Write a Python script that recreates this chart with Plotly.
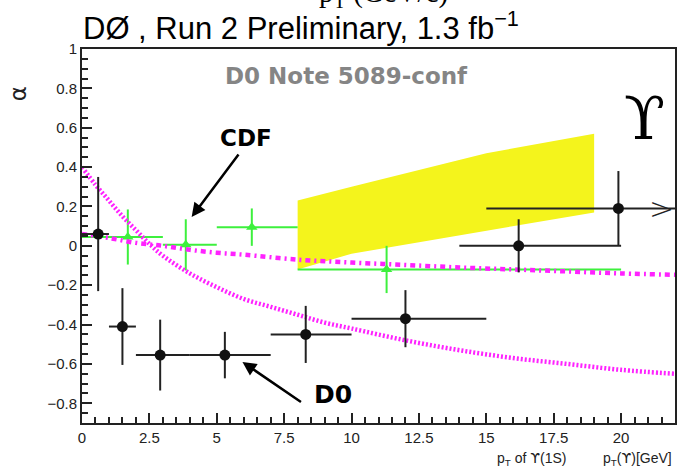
import plotly.graph_objects as go

# ---------------- data ----------------
d0_x = [0.6, 1.5, 2.9, 5.3, 8.3, 12.0, 16.2, 19.9]
d0_y = [0.06, -0.41, -0.555, -0.555, -0.45, -0.37, 0.0, 0.19]
d0_xlo = [0.0, 1.0, 2.0, 4.0, 7.0, 10.0, 14.0, 15.0]
d0_xhi = [1.0, 2.0, 4.0, 7.0, 10.0, 15.0, 20.0, 22.0]
d0_yerr = [0.29, 0.195, 0.18, 0.118, 0.145, 0.145, 0.135, 0.19]

cdf_x = [1.7, 3.85, 6.3, 11.3]
cdf_y = [0.045, 0.005, 0.095, -0.12]
cdf_xlo = [0.0, 3.0, 5.0, 8.0]
cdf_xhi = [3.0, 5.0, 8.0, 20.0]
cdf_yerr = [0.14, 0.13, 0.095, 0.12]

band_x = [8, 10, 15, 19]
band_upper = [0.23, 0.30, 0.47, 0.57]
band_lower = [-0.12, -0.04, 0.077, 0.17]

curveA_x = [0, 0.5, 1, 1.5, 2, 2.5, 3, 4, 5, 6, 7, 8, 9, 10, 12, 14, 16, 18, 20, 22]
curveA_y = [0.40, 0.31, 0.23, 0.15, 0.08, 0.01, -0.05, -0.14, -0.21, -0.27, -0.31,
            -0.35, -0.39, -0.42, -0.48, -0.53, -0.57, -0.60, -0.63, -0.65]

curveB_x = [0, 1, 2, 3, 4, 5, 6, 8, 10, 12, 14, 16, 18, 20, 22]
curveB_y = [0.06, 0.04, 0.015, 0.0, -0.02, -0.035, -0.045, -0.07, -0.085, -0.097,
            -0.11, -0.12, -0.13, -0.14, -0.147]

x_range = [0, 22]
y_range = [-0.9, 1.0]

# ---------------- layout helpers ----------------
W, H = 679, 467
L, R, T, B = 82, 2, 49, 44
PW, PH = W - L - R, H - T - B


def pxx(p):
    return (p - L) / PW


def pxy(p):
    return (H - B - p) / PH


BLACK = "#111111"
GREEN = "#3df03d"
MAGENTA = "#ff22ff"
YELLOW = "#f4f41c"
UPS = "<span style=\"font-family:'DejaVu Sans'\">ϒ</span>"

fig = go.Figure()

# yellow band
fig.add_trace(go.Scatter(
    x=band_x + band_x[::-1], y=band_upper + band_lower[::-1],
    fill="toself", fillcolor=YELLOW, line=dict(width=0), mode="lines",
    hoverinfo="skip", showlegend=False))

# CDF (green)
fig.add_trace(go.Scatter(
    x=cdf_x, y=cdf_y, mode="markers",
    marker=dict(symbol="triangle-up", size=10, color=GREEN),
    error_x=dict(type="data", symmetric=False,
                 array=[h - x for h, x in zip(cdf_xhi, cdf_x)],
                 arrayminus=[x - l for l, x in zip(cdf_xlo, cdf_x)],
                 color=GREEN, thickness=2, width=0),
    error_y=dict(type="data", array=cdf_yerr, color=GREEN, thickness=2, width=0),
    showlegend=False))

# model curves
fig.add_trace(go.Scatter(
    x=curveA_x, y=curveA_y, mode="lines", line_shape="spline",
    line=dict(color=MAGENTA, width=4.5, dash="2px,2px"), showlegend=False))
fig.add_trace(go.Scatter(
    x=curveB_x, y=curveB_y, mode="lines", line_shape="spline",
    line=dict(color=MAGENTA, width=4.5, dash="5px,4px,2px,4px"), showlegend=False))

# D0 (black)
fig.add_trace(go.Scatter(
    x=d0_x, y=d0_y, mode="markers",
    marker=dict(symbol="circle", size=11, color=BLACK),
    error_x=dict(type="data", symmetric=False,
                 array=[h - x for h, x in zip(d0_xhi, d0_x)],
                 arrayminus=[x - l for l, x in zip(d0_xlo, d0_x)],
                 color="#222222", thickness=2, width=0),
    error_y=dict(type="data", array=d0_yerr, color="#222222", thickness=2, width=0),
    showlegend=False))

ann = []
# open arrow head for the last D0 bin
ann.append(dict(x=x_range[1], y=d0_y[-1], xref="x", yref="y", text=">",
                showarrow=False, xanchor="right", yanchor="middle", xshift=1,
                font=dict(family="DejaVu Sans", size=30, color="#222222", weight=200)))

# title
ann.append(dict(x=pxx(81), y=pxy(26), xref="paper", yref="paper",
                text="DØ , Run 2 Preliminary, 1.3 fb<sup>−1</sup>",
                showarrow=False, xanchor="left", yanchor="middle",
                font=dict(family="Liberation Sans", size=31, color="black")))
# clipped text at the very top
ann.append(dict(x=pxx(385), y=pxy(-6), xref="paper", yref="paper",
                text="p<sub>T</sub> (GeV/c)", showarrow=False,
                xanchor="center", yanchor="middle",
                font=dict(family="Liberation Serif", size=29, color="black")))
# note
ann.append(dict(x=pxx(347), y=pxy(76), xref="paper", yref="paper",
                text="<b>D0 Note 5089-conf</b>", showarrow=False,
                xanchor="center", yanchor="middle",
                font=dict(family="DejaVu Sans", size=23, color="#858585")))
# CDF label + arrow
ann.append(dict(x=pxx(247), y=pxy(138), xref="paper", yref="paper",
                text="<b>CDF</b>", showarrow=False, xanchor="center", yanchor="middle",
                font=dict(family="DejaVu Sans", size=23, color="black")))
ann.append(dict(x=pxx(192), y=pxy(217), xref="paper", yref="paper", text="",
                showarrow=True, ax=240 - 192, ay=153 - 217, axref="pixel", ayref="pixel",
                arrowhead=2, arrowsize=1.1, arrowwidth=2.5, arrowcolor="black"))
# D0 label + arrow
ann.append(dict(x=pxx(334), y=pxy(394), xref="paper", yref="paper",
                text="<b>D0</b>", showarrow=False, xanchor="center", yanchor="middle",
                font=dict(family="DejaVu Sans", size=25, color="black")))
ann.append(dict(x=pxx(243), y=pxy(362), xref="paper", yref="paper", text="",
                showarrow=True, ax=303 - 243, ay=403 - 362, axref="pixel", ayref="pixel",
                arrowhead=2, arrowsize=1.1, arrowwidth=2.5, arrowcolor="black"))
# Upsilon symbol
ann.append(dict(x=pxx(646), y=pxy(118), xref="paper", yref="paper",
                text="ϒ", showarrow=False, xanchor="center", yanchor="middle",
                font=dict(family="DejaVu Serif", size=60, color="black")))
# axis titles
ann.append(dict(x=pxx(534), y=pxy(459), xref="paper", yref="paper",
                text="p<sub>T</sub> of " + UPS + "(1S)", showarrow=False,
                xanchor="center", yanchor="middle",
                font=dict(family="Liberation Sans", size=14, color="#222222")))
ann.append(dict(x=pxx(639), y=pxy(459), xref="paper", yref="paper",
                text="p<sub>T</sub>(" + UPS + ")[GeV]", showarrow=False,
                xanchor="center", yanchor="middle",
                font=dict(family="Liberation Sans", size=14, color="#222222")))
ann.append(dict(x=pxx(18), y=pxy(94), xref="paper", yref="paper",
                text="α", showarrow=False, textangle=-90,
                xanchor="center", yanchor="middle",
                font=dict(family="DejaVu Sans", size=23, color="#222222")))

axis_common = dict(showgrid=False, zeroline=False, showline=True, linecolor="#222222",
                   linewidth=2, mirror=True, ticks="inside", tickcolor="#222222",
                   tickwidth=1.5, ticklen=10,
                   tickfont=dict(family="Liberation Sans", size=15, color="#222222"))

fig.update_layout(
    width=W, height=H, margin=dict(l=L, r=R, t=T, b=B),
    paper_bgcolor="white", plot_bgcolor="white",
    annotations=ann,
    xaxis=dict(range=x_range, tick0=0, dtick=2.5,
               minor=dict(ticks="inside", ticklen=6, tick0=0, dtick=0.5,
                          tickcolor="#222222", tickwidth=1.5, showgrid=False),
               **axis_common),
    yaxis=dict(range=y_range, tick0=0, dtick=0.2,
               minor=dict(ticks="inside", ticklen=6, tick0=0, dtick=0.05,
                          tickcolor="#222222", tickwidth=1.5, showgrid=False),
               **axis_common),
)

fig.write_html("out.html")
